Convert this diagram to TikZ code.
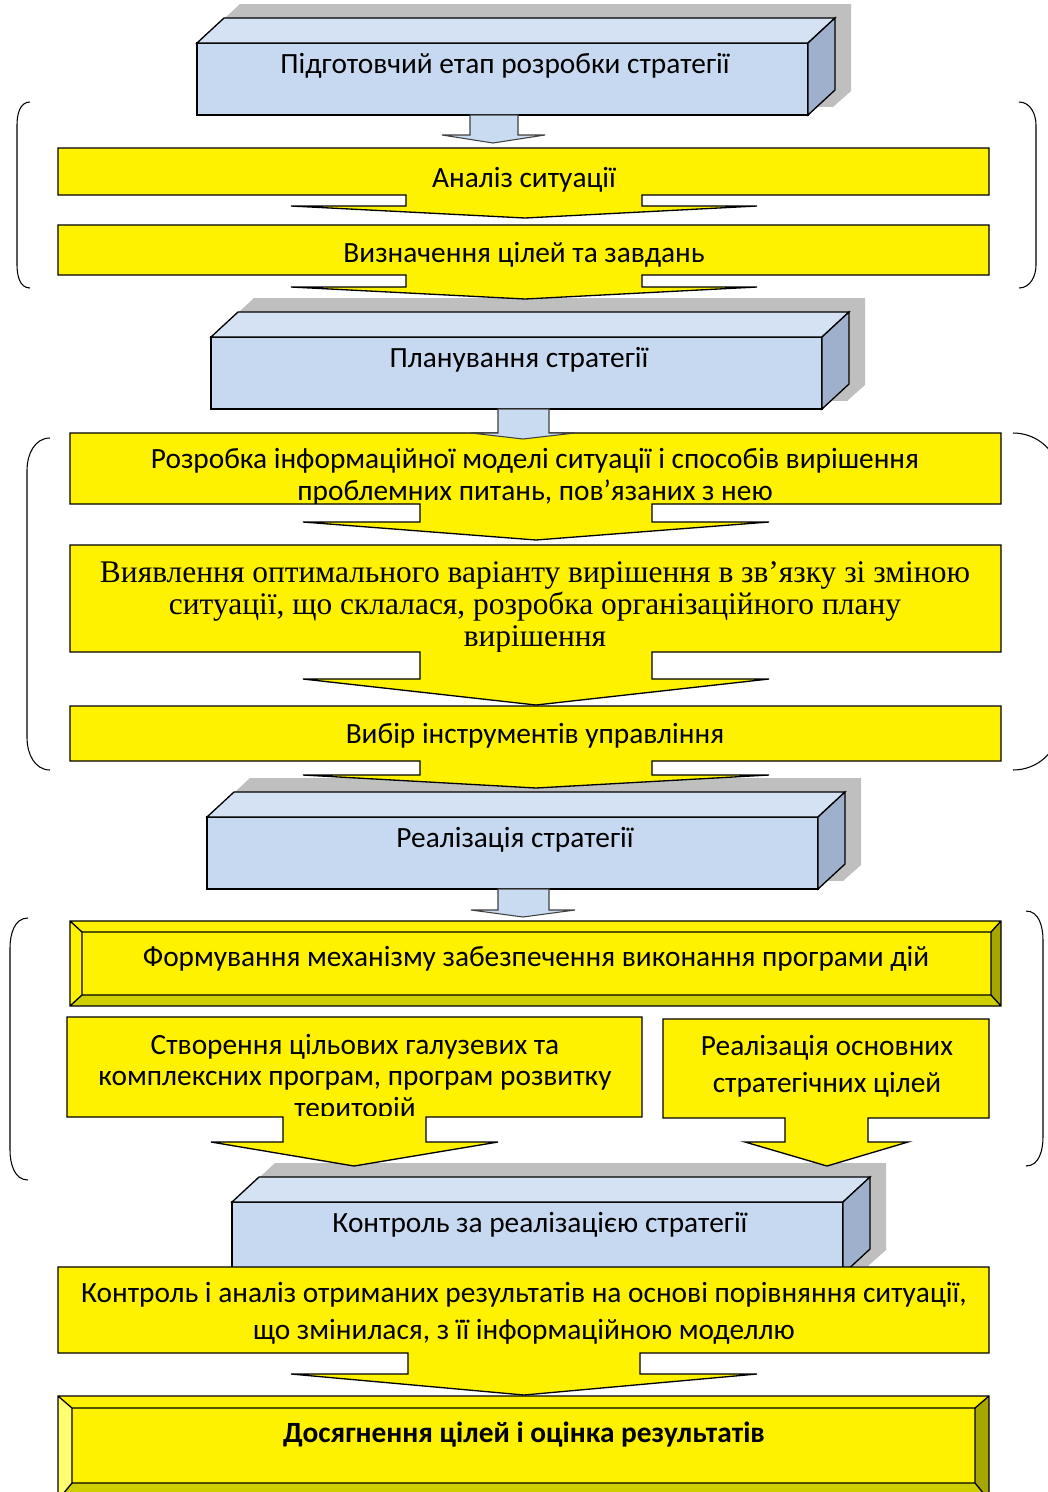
\documentclass[tikz,border=0pt]{standalone}
\usepackage{fontspec}
\setmainfont{Carlito}
\newfontfamily\timescyr{Liberation Serif}
\definecolor{boxfront}{HTML}{C6D9F1}
\definecolor{boxtop}{HTML}{D5E2F4}
\definecolor{boxside}{HTML}{9EB0CB}
\definecolor{shadowgray}{HTML}{BFBFBF}
\definecolor{arrowblue}{HTML}{C9DBF1}
\definecolor{bevelright}{HTML}{A6A600}
\definecolor{bevelbottom}{HTML}{CFCF00}
\definecolor{bevellight}{HTML}{FFFF70}

\begin{document}
\begin{tikzpicture}[x=0.02cm, y=-0.02cm,
  ybox/.style={draw=black, line width=0.75pt, fill=yellow},
  bface/.style={draw=black, line width=0.75pt},
  barrow/.style={draw=black!75, line width=0.6pt, fill=arrowblue},
  txt/.style={inner sep=0pt, align=center, font=\fontsize{16.7}{18}\selectfont},
  paren/.style={draw=black, line width=0.6pt}]

\clip (0,0) rectangle (1048,1492);

\draw[paren] (30,102) to[out=180,in=90] (17,125) -- (17,265) to[out=-90,in=180] (30,288);
\draw[paren] (1019,102) to[out=0,in=90] (1036,125) -- (1036,265) to[out=-90,in=0] (1019,288);
\draw[paren] (50,438) to[out=180,in=90] (27,470) -- (27,738) to[out=-90,in=180] (50,770);
\draw[paren] (1013,433) to[out=0,in=90] (1058,475) -- (1058,728) to[out=-90,in=0] (1013,770);
\draw[paren] (28,918) to[out=180,in=90] (10,948) -- (10,1150) to[out=-90,in=180] (28,1180);
\draw[paren] (1026,911) to[out=0,in=90] (1043,940) -- (1043,1137) to[out=-90,in=0] (1026,1166);

\foreach \x/\y/\n/\t in {197/43/prep/{Підготовчий етап розробки стратегії},
    211/337/plan/{Планування стратегії},
    207/817/real/{Реалізація стратегії},
    232/1202/ctrl/{Контроль за реалізацією стратегії}}{
  \fill[shadowgray] ({\x+16},{\y-14}) -- ({\x+43},{\y-39}) -- ({\x+654},{\y-39})
    -- ({\x+654},{\y+48}) -- ({\x+636},{\y+64}) -- ({\x+16},{\y+58}) -- cycle;
  \draw[bface, fill=boxfront] (\x,\y) rectangle ({\x+611},{\y+72});
  \draw[bface, fill=boxtop] (\x,\y) -- ({\x+27},{\y-25}) -- ({\x+638},{\y-25}) -- ({\x+611},\y) -- cycle;
  \draw[bface, fill=boxside] ({\x+611},\y) -- ({\x+638},{\y-25}) -- ({\x+638},{\y+47}) -- ({\x+611},{\y+72}) -- cycle;
  \node[txt] (\n) at ({\x+308},{\y+23}) {\t};
}

\draw[ybox] (58,148) -- (989,148) -- (989,195) -- (642,195) -- (642,206) -- (757,206) -- (525,218)
  -- (291,206) -- (406,206) -- (406,195) -- (58,195) -- cycle;
\draw[ybox] (58,225) -- (989,225) -- (989,275) -- (642,275) -- (642,287) -- (757,287) -- (525,299)
  -- (291,287) -- (406,287) -- (406,275) -- (58,275) -- cycle;
\draw[ybox] (70,433) -- (1001,433) -- (1001,504) -- (652,504) -- (652,522) -- (769,522) -- (536,540)
  -- (303,522) -- (420,522) -- (420,504) -- (70,504) -- cycle;
\draw[ybox] (70,545) -- (1001,545) -- (1001,652) -- (652,652) -- (652,679) -- (769,679) -- (536,705)
  -- (303,679) -- (420,679) -- (420,652) -- (70,652) -- cycle;
\draw[ybox] (70,706) -- (1001,706) -- (1001,761) -- (652,761) -- (652,775) -- (769,775) -- (536,788)
  -- (303,775) -- (420,775) -- (420,761) -- (70,761) -- cycle;
\draw[ybox] (67,1017) -- (642,1017) -- (642,1117) -- (426,1117) -- (426,1142) -- (498,1142) -- (354,1166)
  -- (211,1142) -- (283,1142) -- (283,1117) -- (67,1117) -- cycle;
\draw[ybox] (663,1019) -- (989,1019) -- (989,1118) -- (868,1118) -- (868,1142) -- (908,1142) -- (827,1166)
  -- (745,1142) -- (785,1142) -- (785,1118) -- (663,1118) -- cycle;
\draw[ybox] (58,1267) -- (989,1267) -- (989,1353) -- (640,1353) -- (640,1374) -- (757,1374) -- (524,1395)
  -- (291,1374) -- (408,1374) -- (408,1353) -- (58,1353) -- cycle;

% bevelled boxes
\fill[yellow] (70,921) rectangle (1001,1006);
\fill[bevelright] (1001,921) -- (1001,1006) -- (991,995) -- (991,932) -- cycle;
\fill[bevelbottom] (70,1006) -- (1001,1006) -- (991,995) -- (82,995) -- cycle;
\draw[bface] (70,921) rectangle (1001,1006) (82,932) rectangle (991,995)
  (70,921) -- (82,932) (1001,921) -- (991,932) (70,1006) -- (82,995) (1001,1006) -- (991,995);
\fill[yellow] (58,1396) rectangle (989,1500);
\fill[bevellight] (58,1396) -- (72,1408) -- (72,1483) -- (58,1500) -- cycle;
\fill[bevelright] (989,1396) -- (989,1500) -- (975,1483) -- (975,1408) -- cycle;
\fill[bevelbottom] (58,1500) -- (989,1500) -- (975,1483) -- (72,1483) -- cycle;
\draw[bface] (58,1396) rectangle (989,1500) (72,1408) rectangle (975,1483)
  (58,1396) -- (72,1408) (989,1396) -- (975,1408) (58,1500) -- (72,1483) (989,1500) -- (975,1483);

\node[txt] (analiz) at (524,180) {Аналіз ситуації};
\node[txt] (cili) at (524,255) {Визначення цілей та завдань};
\begin{scope}
  \clip (70,433) rectangle (1001,503);
  \node[txt] (model) at (535,477) {Розробка інформаційної моделі ситуації і способів вирішення\\
    проблемних питань, пов’язаних з нею};
\end{scope}
\begin{scope}
  \clip (70,545) rectangle (1001,651);
  \node[txt, font=\timescyr\fontsize{17.9}{18.2}\selectfont] (variant) at (535,607)
    {Виявлення оптимального варіанту вирішення в зв’язку зі зміною\\
    ситуації, що склалася, розробка організаційного плану\\ вирішення};
\end{scope}
\node[txt] (instr) at (535,736) {Вибір інструментів управління};
\node[txt] (mekh) at (536,959) {Формування механізму забезпечення виконання програми дій};
\begin{scope}
  \clip (67,1017) rectangle (642,1115);
  \node[txt, font=\fontsize{16.7}{17.9}\selectfont] (prohramy) at (355,1078)
    {Створення цільових галузевих та\\ комплексних програм, програм розвитку\\ територій};
\end{scope}
\node[txt, font=\fontsize{16.7}{21}\selectfont] (osnovni) at (827,1066) {Реалізація основних\\ стратегічних цілей};
\node[txt, font=\fontsize{16.7}{21}\selectfont] (analizrez) at (524,1313)
  {Контроль і аналіз отриманих результатів на основі порівняння ситуації,\\
  що змінилася, з її інформаційною моделлю};
\node[txt, font=\bfseries\fontsize{16.7}{18}\selectfont] (dosyah) at (524,1435) {Досягнення цілей і оцінка результатів};

\draw[barrow] (470,115) -- (518,115) -- (518,135) -- (545,135) -- (493,143) -- (442,135) -- (470,135) -- cycle;
\draw[barrow] (498,409) -- (549,409) -- (549,433) -- (575,433) -- (523,439) -- (471,433) -- (498,433) -- cycle;
\draw[barrow] (498,889) -- (549,889) -- (549,910) -- (575,910) -- (523,917) -- (471,910) -- (498,910) -- cycle;
\end{tikzpicture}
\end{document}
